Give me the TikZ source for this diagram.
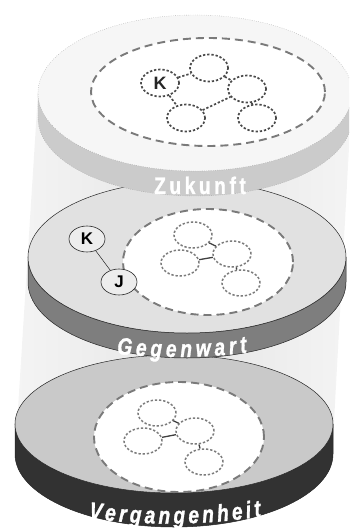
\documentclass[tikz,border=0pt]{standalone}
\usepackage{fontspec}
\setmainfont{Liberation Sans}
\newfontfamily\bandfont{Liberation Sans}[FakeStretch=0.8, FakeBold=1.2]
\usetikzlibrary{shapes.geometric,decorations.text}
\definecolor{topface}{HTML}{F6F6F6}
\definecolor{topband}{HTML}{CBCBCB}
\definecolor{midface}{HTML}{E1E1E1}
\definecolor{midband}{HTML}{7E7E7E}
\definecolor{botface}{HTML}{C9C9C9}
\definecolor{botband}{HTML}{323232}
\definecolor{hullc}{HTML}{E6E6E6}
\definecolor{hulle}{HTML}{F4F4F4}
\definecolor{dashc}{HTML}{7A7A7A}
\definecolor{dotc}{HTML}{4A4A4A}
\definecolor{dotl}{HTML}{7C7C7C}
\newcommand\labfontA{\bandfont\bfseries\fontsize{24}{24}\selectfont\color{white}}
\newcommand\labfontB{\bandfont\bfseries\itshape\fontsize{24}{24}\selectfont\color{white}}
\tikzset{
  hull/.style={left color=hulle, right color=hulle, middle color=hullc, draw=none},
  topdisk/.style={fill=topface, draw=gray!70, line width=0.4bp, dash pattern=on 0.6bp off 1.6bp},
  topbandst/.style={fill=topband, draw=gray!70, line width=0.4bp, dash pattern=on 0.6bp off 1.6bp},
  middisk/.style={fill=midface, draw=black!85, line width=0.5bp},
  midbandst/.style={fill=midband, draw=black!85, line width=0.5bp},
  botdisk/.style={fill=botface, draw=black!85, line width=0.5bp},
  botbandst/.style={fill=botband, draw=black!85, line width=0.5bp},
  zone/.style={fill=white, draw=dashc, line width=1.9bp, dash pattern=on 8bp off 5bp},
  netnode/.style={ellipse, draw=dotc, line width=1.7bp, dash pattern=on 2.3bp off 1.9bp,
    minimum width=38bp, minimum height=27bp, inner sep=0pt},
  netnodel/.style={netnode, draw=dotl, line width=1.5bp, minimum height=26bp},
  netedge/.style={draw=dotc, line width=1.7bp, dash pattern=on 2.3bp off 1.9bp},
  solidedge/.style={draw=black!75, line width=1.3bp},
  letternode/.style={ellipse, draw=black!85, line width=0.6bp, fill=midface!60!white,
    minimum width=36bp, minimum height=26bp, inner sep=0pt, font=\bfseries\fontsize{17}{17}\selectfont},
  bandlabel/.style={font=\labfontA, text=white, anchor=base}
}
\begin{document}
\begin{tikzpicture}[x=1bp,y=-1bp]
\useasboundingbox (0,0) rectangle (349,532);
\clip (0,0) rectangle (349,532);
% translucent hull
\path[hull] (38,93) -- (16,440) -- (333,440) -- (352,93) -- cycle;
% bottom disk (Vergangenheit)
\path[botbandst] (15,424) -- (15,454) arc[start angle=180, end angle=360, x radius=159bp, y radius=73bp]
  -- (333,424) arc[start angle=360, end angle=180, x radius=159bp, y radius=69bp] -- cycle;
\path[botdisk] (174,424) ellipse[x radius=159bp, y radius=69bp];
\path[zone] (179,437) ellipse[x radius=85bp, y radius=55bp];
\node[netnodel] (ba) at (157,413) {};
\node[netnodel] (bb) at (195,431) {};
\node[netnodel] (bc) at (143,441) {};
\node[netnodel] (bd) at (204,462) {};
\draw[solidedge] (ba) -- (bb);
\draw[solidedge] (bc) -- (bb);
\draw[solidedge] (bb) -- (bd);
\path[decorate, decoration={text along path, text align=center,
  text={|\labfontB|{V\kern3.4bp}{e\kern3.4bp}{r\kern3.4bp}{g\kern3.4bp}{a\kern3.4bp}{n\kern3.4bp}{g\kern3.4bp}{e\kern3.4bp}{n\kern3.4bp}{h\kern3.4bp}{e\kern3.4bp}{i\kern3.4bp}{t}}}]
  (64,515) .. controls (138,527) and (212,527) .. (286,512);
% middle disk (Gegenwart)
\path[midbandst] (28,257) -- (28,282) arc[start angle=180, end angle=360, x radius=159bp, y radius=76bp]
  -- (346,257) arc[start angle=360, end angle=180, x radius=159bp, y radius=76bp] -- cycle;
\path[middisk] (187,257) ellipse[x radius=159bp, y radius=76bp];
\path[zone] (208,262) ellipse[x radius=85bp, y radius=53bp];
\node[netnodel] (ma) at (193,235) {};
\node[netnodel] (mb) at (232,254) {};
\node[netnodel] (mc) at (180,263) {};
\node[netnodel] (md) at (241,283) {};
\draw[solidedge] (ma) -- (mb);
\draw[solidedge] (mc) -- (mb);
\draw[solidedge] (mb) -- (md);
\node[letternode] (mk) at (87,239) {K};
\node[letternode] (mj) at (119,282) {J};
\draw[draw=black!85, line width=0.5bp] (mk) -- (mj);
\path[decorate, decoration={text along path, text align=center,
  text={|\labfontB|{G\kern4bp}{e\kern4bp}{g\kern4bp}{e\kern4bp}{n\kern4bp}{w\kern4bp}{a\kern4bp}{r\kern4bp}{t}}}]
  (100,352) .. controls (155,359) and (209,359) .. (264,350);
% top disk (Zukunft)
\path[topbandst] (38,93) -- (38,118) arc[start angle=180, end angle=360, x radius=157bp, y radius=78bp]
  -- (352,93) arc[start angle=360, end angle=180, x radius=157bp, y radius=78bp] -- cycle;
\path[topdisk] (195,93) ellipse[x radius=157bp, y radius=78bp];
\path[zone] (208,92) ellipse[x radius=117bp, y radius=54bp];
\node[netnode, font=\bfseries\fontsize{18}{18}\selectfont, text=black!85] (tk) at (160,83) {K};
\node[netnode] (t1) at (209,68) {};
\node[netnode] (t2) at (247,89) {};
\node[netnode] (t3) at (186,118) {};
\node[netnode] (t4) at (257,118) {};
\draw[netedge] (tk) -- (t1);
\draw[netedge] (t1) -- (t2);
\draw[netedge] (tk) -- (t3);
\draw[netedge] (t3) -- (t2);
\draw[netedge] (t2) -- (t4);
\node[bandlabel] (zuk) at (200,194) {\addfontfeatures{LetterSpace=15}Zukunft};
\end{tikzpicture}
\end{document}
